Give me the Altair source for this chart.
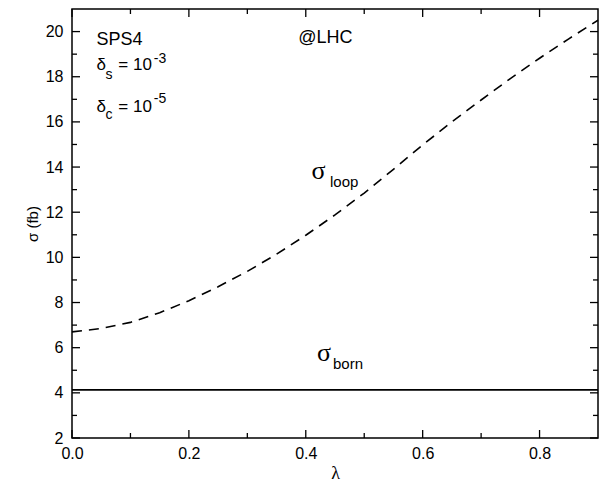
import altair as alt
import pandas as pd

# ---- data ----
lam = [0.0, 0.05, 0.10, 0.15, 0.20, 0.25, 0.30, 0.35, 0.40, 0.45, 0.50,
       0.55, 0.60, 0.65, 0.70, 0.75, 0.80, 0.85, 0.90]
sigma_loop = [6.70, 6.85, 7.12, 7.55, 8.08, 8.70, 9.38, 10.14, 10.98, 11.88, 12.85,
              13.90, 14.98, 16.00, 16.97, 17.92, 18.82, 19.68, 20.50]
lam_born = [0.0, 0.9]
sigma_born = [4.13, 4.13]

x_major = [0.0, 0.2, 0.4, 0.6, 0.8]
x_minor = [0.1, 0.3, 0.5, 0.7]
y_major = [2, 4, 6, 8, 10, 12, 14, 16, 18, 20]
y_minor = [3, 5, 7, 9, 11, 13, 15, 17, 19]

# annotations (data coordinates)
big_text = ["SPS4", "@LHC"]
big_x = [0.042, 0.387]
big_y = [19.42, 19.48]
ann_text = ["δ", "= 10", "δ", "= 10"]
ann_x = [0.042, 0.0792, 0.042, 0.0792]
ann_y = [18.28, 18.28, 16.45, 16.45]
script_text = ["s", "-3", "c", "-5"]
script_x = [0.0575, 0.140, 0.0575, 0.140]
script_y = [17.92, 18.63, 16.15, 16.85]
sub_text = ["loop", "born"]
sub_x = [0.4415, 0.4466]
sub_y = [13.11, 5.05]
sig_text = ["σ", "σ"]
sig_x = [0.410, 0.419]
sig_y = [13.46, 5.41]

W, H = 526, 429
XD = [0, 0.9]
YD = [2, 21]

xs = alt.Scale(domain=XD, nice=False, zero=False)
ys = alt.Scale(domain=YD, nice=False, zero=False)

xaxis = alt.Axis(values=x_major, format=".1f", ticks=False, grid=False, domain=False,
                 labelPadding=7, labelFlush=False, labelFontSize=16, labelColor="black",
                 labelFont="Liberation Sans", titleFont="Liberation Serif",
                 titleFontSize=18, titleFontWeight="normal", titlePadding=3,
                 titleColor="black")
yaxis = alt.Axis(values=y_major, ticks=False, grid=False, domain=False,
                 labelPadding=9, labelFlush=False, labelFontSize=16, labelColor="black",
                 labelFont="Liberation Sans", titleFont="Liberation Sans",
                 titleFontSize=15, titleFontWeight="normal", titlePadding=5,
                 titleColor="black")

def X(f):
    return alt.X(f, scale=xs, title="λ", axis=xaxis)

def Y(f):
    return alt.Y(f, scale=ys, title="σ (fb)", axis=yaxis)

loop_df = pd.DataFrame({"lam": lam, "sigma": sigma_loop})
born_df = pd.DataFrame({"lam": lam_born, "sigma": sigma_born})

loop = alt.Chart(loop_df).mark_line(color="black", strokeWidth=1.6, strokeDash=[10, 7]).encode(
    x=X("lam:Q"), y=Y("sigma:Q"))

born = alt.Chart(born_df).mark_line(color="black", strokeWidth=1.6).encode(
    x=X("lam:Q"), y=Y("sigma:Q"))

def yticks(vals, length):
    df = pd.DataFrame({"v": vals})
    left = alt.Chart(df).mark_rule(color="black", strokeWidth=1.3).encode(
        y=Y("v:Q"), x=alt.value(0), x2=alt.value(length))
    right = alt.Chart(df).mark_rule(color="black", strokeWidth=1.3).encode(
        y=Y("v:Q"), x=alt.value(W), x2=alt.value(W - length))
    return [left, right]

def xticks(vals, length):
    df = pd.DataFrame({"v": vals})
    bottom = alt.Chart(df).mark_rule(color="black", strokeWidth=1.3).encode(
        x=X("v:Q"), y=alt.value(H), y2=alt.value(H - length))
    top = alt.Chart(df).mark_rule(color="black", strokeWidth=1.3).encode(
        x=X("v:Q"), y=alt.value(0), y2=alt.value(length))
    return [bottom, top]

def text_layer(t, x, y, size, font="Liberation Sans"):
    return alt.Chart(pd.DataFrame({"t": t, "x": x, "y": y})).mark_text(
        align="left", baseline="alphabetic", fontSize=size, font=font, color="black"
    ).encode(x=X("x:Q"), y=Y("y:Q"), text="t:N")

layers = (
    [loop, born]
    + yticks(y_major, 8) + yticks(y_minor, 5)
    + xticks(x_major, 8) + xticks(x_minor, 5)
    + [
        text_layer(big_text, big_x, big_y, 18),
        text_layer(ann_text, ann_x, ann_y, 17),
        text_layer(script_text, script_x, script_y, 14),
        text_layer(sub_text, sub_x, sub_y, 15),
        text_layer(sig_text, sig_x, sig_y, 26, "Liberation Serif"),
    ]
)

chart = alt.layer(*layers).properties(
    width=W, height=H, background="white",
    padding={"left": 17, "top": 0, "right": 0, "bottom": 0},
).configure_view(stroke="black", strokeWidth=1.5)

chart.save("out.html", embed_options={"renderer": "svg", "actions": False})
